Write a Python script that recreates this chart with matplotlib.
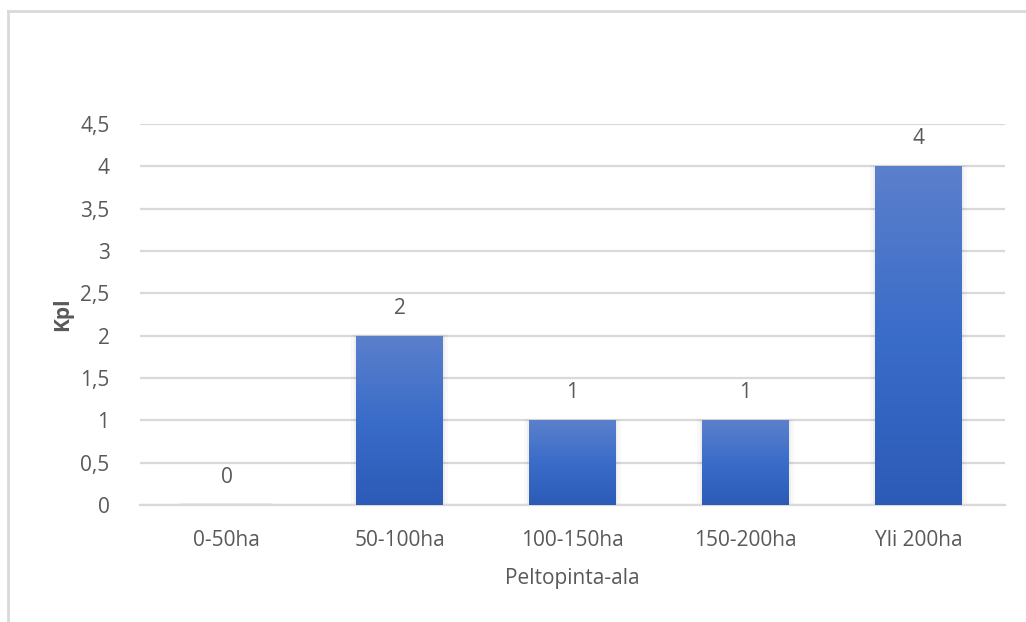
import numpy as np
import matplotlib
matplotlib.use("Agg")
import matplotlib.pyplot as plt
from matplotlib.colors import LinearSegmentedColormap
from matplotlib.lines import Line2D
from matplotlib.ticker import FuncFormatter

categories = ["0-50ha", "50-100ha", "100-150ha", "150-200ha", "Yli 200ha"]
counts = [0, 2, 1, 1, 4]
y_ticks = [0, 0.5, 1, 1.5, 2, 2.5, 3, 3.5, 4, 4.5]

plt.rcParams["font.family"] = ["Open Sans", "DejaVu Sans"]
text_color = "#595959"
grid_color = "#d9d9d9"

fig = plt.figure(figsize=(10.26, 6.22), dpi=100)
ax = fig.add_axes([0.1365, 0.188, 0.843, 0.6126])

x = np.arange(len(categories))
bars = ax.bar(x, counts, width=0.5, color="none", edgecolor="none", zorder=3)

# vertical blue gradient inside each bar, with a faint shadow behind
grad = LinearSegmentedColormap.from_list("bar", ["#2c5bb7", "#3a6cc9", "#5b80cc"])
gradient = np.linspace(0, 1, 256).reshape(-1, 1)
for rect, v in zip(bars, counts):
    x0, w = rect.get_x(), rect.get_width()
    for k, a in ((0.03, 0.025), (0.015, 0.04)):
        ax.add_patch(plt.Rectangle((x0 - k, 0), w + 2 * k, v + k * 0.5 if v > 0 else 0.02,
                                   color="black", alpha=a, lw=0, zorder=2))
    if v <= 0:
        continue
    im = ax.imshow(gradient, extent=(x0, x0 + w, 0, v), origin="lower",
                   cmap=grad, aspect="auto", zorder=3)
    im.set_clip_path(rect)
    ax.text(rect.get_x() + w / 2, v + 0.2, f"{v}", ha="center", va="bottom",
            fontsize=15, color=text_color, zorder=4)
ax.text(x[0], 0 + 0.2, f"{counts[0]}", ha="center", va="bottom",
        fontsize=15, color=text_color, zorder=4)

ax.set_xlim(-0.5, len(categories) - 0.5)
ax.set_ylim(0, 4.5)
ax.set_yticks(y_ticks)
ax.yaxis.set_major_formatter(FuncFormatter(lambda v, p: f"{v:g}".replace(".", ",")))
ax.set_xticks(x)
ax.set_xticklabels(categories)
ax.tick_params(axis="both", length=0, labelsize=15, colors=text_color)
ax.tick_params(axis="y", pad=22)
ax.tick_params(axis="x", pad=18)

ax.grid(axis="y", color=grid_color, linewidth=1.6, zorder=0)
ax.set_axisbelow(True)
for s in ("top", "right", "left"):
    ax.spines[s].set_visible(False)
ax.spines["bottom"].set_color(grid_color)
ax.spines["bottom"].set_linewidth(1.6)

ax.set_ylabel("Kpl", fontsize=15, color=text_color, fontweight="bold", labelpad=5)
ax.set_xlabel("Peltopinta-ala", fontsize=15, color=text_color, labelpad=12)

# chart frame (left and top edges)
fig.add_artist(Line2D([0.0078, 0.0078], [0, 0.982], color=grid_color, lw=2,
                      transform=fig.transFigure))
fig.add_artist(Line2D([0.0078, 1.0], [0.982, 0.982], color=grid_color, lw=2,
                      transform=fig.transFigure))

fig.savefig("out.png", dpi=100, facecolor="white")
